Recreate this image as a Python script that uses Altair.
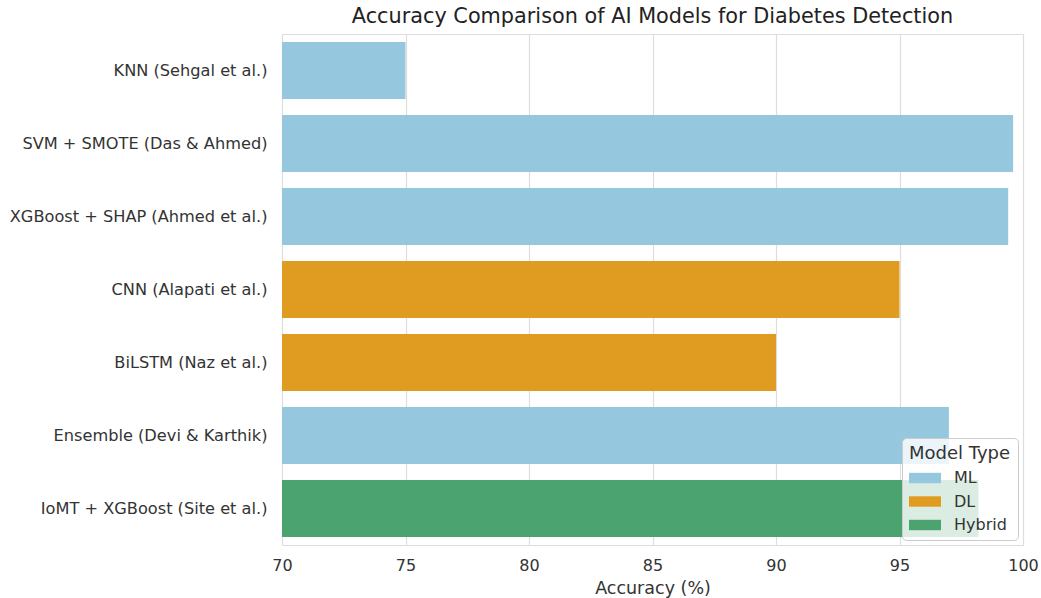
import altair as alt
import pandas as pd

models = [
    "KNN (Sehgal et al.)",
    "SVM + SMOTE (Das & Ahmed)",
    "XGBoost + SHAP (Ahmed et al.)",
    "CNN (Alapati et al.)",
    "BiLSTM (Naz et al.)",
    "Ensemble (Devi & Karthik)",
    "IoMT + XGBoost (Site et al.)",
]
accuracy = [75.0, 99.6, 99.4, 95.0, 90.0, 97.0, 98.2]
types = ["ML", "ML", "ML", "DL", "DL", "ML", "Hybrid"]

type_order = ["ML", "DL", "Hybrid"]
type_colors = ["#95C8DF", "#E09B21", "#4BA46F"]

df = pd.DataFrame({"Model": models, "Accuracy": accuracy, "Model Type": types})

FONT = "DejaVu Sans"

chart = (
    alt.Chart(df)
    .mark_bar(size=57, clip=True)
    .encode(
        y=alt.Y(
            "Model:N",
            sort=None,
            title=None,
            scale=alt.Scale(paddingInner=0.2, paddingOuter=0.1),
            axis=alt.Axis(
                labelFontSize=16.2,
                labelColor="#333333",
                labelFont=FONT,
                ticks=False,
                domain=False,
                grid=False,
                labelPadding=15,
                labelLimit=300,
            ),
        ),
        x=alt.X(
            "Accuracy:Q",
            title="Accuracy (%)",
            scale=alt.Scale(domain=[70, 100], nice=False, zero=False),
            axis=alt.Axis(
                values=[70, 75, 80, 85, 90, 95, 100],
                labelFontSize=16,
                labelColor="#333333",
                labelFont=FONT,
                labelFlush=False,
                titleFont=FONT,
                titleFontSize=17.5,
                titleFontWeight="normal",
                titleColor="#333333",
                titlePadding=6,
                ticks=False,
                domain=False,
                grid=True,
                gridColor="#dddddd",
                gridWidth=1.2,
                labelPadding=12,
            ),
        ),
        color=alt.Color(
            "Model Type:N",
            scale=alt.Scale(domain=type_order, range=type_colors),
            legend=alt.Legend(
                orient="none",
                legendX=620,
                legendY=404,
                title="Model Type",
                titleFont=FONT,
                titleFontSize=18,
                titleFontWeight="normal",
                titleColor="#333333",
                titlePadding=7,
                labelFont=FONT,
                labelFontSize=16,
                labelColor="#333333",
                symbolType="M-1,-0.65H3V0.65H-1Z",
                symbolSize=256,
                symbolStrokeWidth=0,
                symbolOpacity=1,
                rowPadding=7.5,
                labelOffset=29,
                fillColor="rgba(255,255,255,0.8)",
                strokeColor="#cccccc",
                cornerRadius=4,
                padding=7,
            ),
        ),
    )
    .properties(
        width=741,
        height=511,
        padding={"left": 282, "top": 34, "right": 18, "bottom": 53},
        autosize=alt.AutoSizeParams(type="none"),
        title=alt.Title(
            "Accuracy Comparison of AI Models for Diabetes Detection",
            font=FONT,
            fontSize=20.8,
            fontWeight="normal",
            color="#222222",
            offset=6,
        ),
    )
    .configure_view(stroke="#cccccc", strokeWidth=1.5)
    .configure(background="white")
)

chart.save("out.html", embed_options={"renderer": "svg", "actions": False})
